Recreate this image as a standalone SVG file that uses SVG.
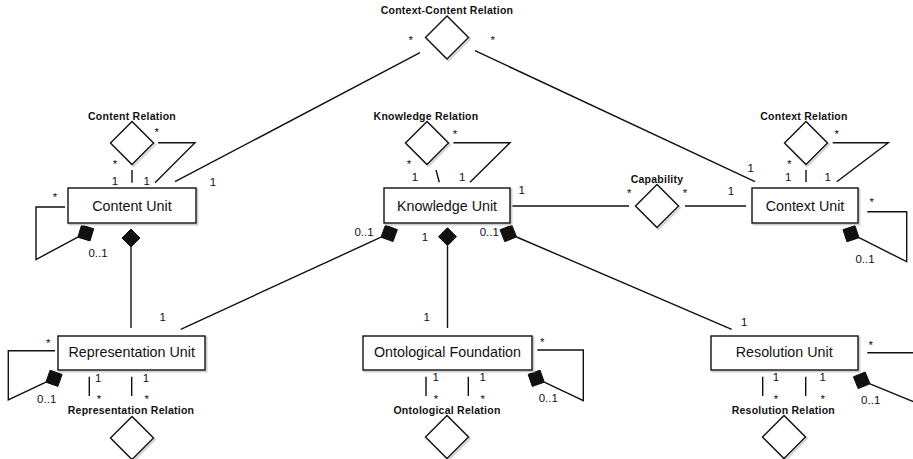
<svg xmlns="http://www.w3.org/2000/svg" xmlns:xlink="http://www.w3.org/1999/xlink" width="913" height="459" viewBox="0 0 913 459">
<style>
.box{fill:#fff;stroke:#111;stroke-width:1.4}
.bshadow{fill:none;stroke:#cfcfcf;stroke-width:2}
.dia{fill:#fff;stroke:#111;stroke-width:1.4}
.dshadow{fill:none;stroke:#d4d4d4;stroke-width:2}
.t{font-family:"Liberation Sans",Arial,sans-serif;font-size:14.3px;fill:#111;text-anchor:middle}
.l{font-family:"Liberation Sans",Arial,sans-serif;font-size:10.5px;font-weight:bold;letter-spacing:0.25px;fill:#111;text-anchor:middle}
.m{font-family:"Liberation Sans",Arial,sans-serif;font-size:11.5px;fill:#111;text-anchor:middle}
.c{fill:none;stroke:#111;stroke-width:1.4}
.comp{fill:#111;stroke:#111;stroke-width:1}
</style>
<defs>
<polygon id="dia" points="0,-21.5 21.5,0 0,21.5 -21.5,0"/>
</defs>
<rect width="913" height="459" fill="#fff"/>

<g id="connectors">
<!-- Context-Content relation -->
<polyline class="c" points="420,52.7 175,181.7"/>
<polyline class="c" points="475,50.7 755,181.7"/>
<!-- Content relation -->
<polyline class="c" points="132,170 132,182.7"/>
<polyline class="c" points="158,142.7 195,142.7 155,182.7"/>
<!-- Knowledge relation -->
<polyline class="c" points="436,170 439.3,182.3"/>
<polyline class="c" points="453.3,142.7 510,142.7 470,182.3"/>
<!-- Context relation -->
<polyline class="c" points="806,170 806,182"/>
<polyline class="c" points="832.7,142.7 888.3,142.7 836.7,181.7"/>
<!-- Capability -->
<polyline class="c" points="510,206 629,206"/>
<polyline class="c" points="685,206 746,206"/>
<!-- Content Unit self loop -->
<polyline class="c" points="65,207 36,207 36,259.5 77.85,237.2"/>
<polygon class="comp" points="77.85,237.23 90.03,240.95 93.75,228.77 81.57,225.05"/>
<!-- Content Unit to Representation Unit -->
<polygon class="comp" points="131,229 140,238 131,247 122,238"/>
<polyline class="c" points="131,247 131,328"/>
<!-- Knowledge Unit to Representation Unit -->
<polygon class="comp" points="381.0,237.2 393.0,241.6 397.4,229.6 385.4,225.2"/>
<polyline class="c" points="381.0,237.2 180.7,329.3"/>
<!-- Knowledge Unit to Ontological Foundation -->
<polygon class="comp" points="447.5,227.7 456.5,236.7 447.5,245.7 438.5,236.7"/>
<polyline class="c" points="447.5,245.7 447.5,328"/>
<!-- Knowledge Unit to Resolution Unit -->
<polygon class="comp" points="516.6,236.95 504.75,241.67 500.0,229.85 511.85,225.13"/>
<polyline class="c" points="516.6,237 731.7,329.3"/>
<!-- Context Unit self loop -->
<polyline class="c" points="867.3,211.7 906.7,211.7 906.7,261.7 859,237.7"/>
<polygon class="comp" points="859.05,237.74 846.96,241.75 842.95,229.66 855.04,225.65"/>
<!-- Representation Unit self loop -->
<polyline class="c" points="55,350.7 8.3,350.7 8.3,400 45.9,382.2"/>
<polygon class="comp" points="45.87,382.16 57.86,386.43 62.13,374.44 50.14,370.17"/>
<!-- Ontological Foundation self loop -->
<polyline class="c" points="537.3,350 583.3,350 583.3,400.7 544.3,382.2"/>
<polygon class="comp" points="544.3,382.2 532.3,386.4 528.1,374.4 540.1,370.2"/>
<!-- Resolution Unit self loop -->
<polyline class="c" points="867.3,352.7 914,352.7"/>
<polyline class="c" points="870,383.8 914,402"/>
<polygon class="comp" points="870.0,383.8 858.2,388.6 853.4,376.8 865.2,372.0"/>
<!-- Bottom relation stubs -->
<polyline class="c" points="89.3,376.7 89.3,396"/>
<polyline class="c" points="131.7,376.7 131.7,396"/>
<polyline class="c" points="426,376.7 426,396"/>
<polyline class="c" points="468.3,376.7 468.3,396"/>
<polyline class="c" points="762.7,376.7 762.7,396"/>
<polyline class="c" points="805.7,376.7 805.7,396"/>

<!-- multiplicities -->
<g id="multiplicities">
<text class="m" x="410.7" y="43.6">*</text>
<text class="m" x="492.7" y="43.6">*</text>
<text class="m" x="213" y="185.8">1</text>
<text class="m" x="750.7" y="172.4">1</text>
<text class="m" x="156.7" y="135.6">*</text>
<text class="m" x="115" y="167.6">*</text>
<text class="m" x="115" y="184.8">1</text>
<text class="m" x="146.7" y="184.8">1</text>
<text class="m" x="455" y="138.3">*</text>
<text class="m" x="409" y="167.6">*</text>
<text class="m" x="415" y="180.8">1</text>
<text class="m" x="462.3" y="180.8">1</text>
<text class="m" x="836.7" y="138.3">*</text>
<text class="m" x="789.3" y="167.6">*</text>
<text class="m" x="788.3" y="181.4">1</text>
<text class="m" x="827.7" y="181.4">1</text>
<text class="m" x="629.3" y="197.3">*</text>
<text class="m" x="685" y="197.3">*</text>
<text class="m" x="521.7" y="194.1">1</text>
<text class="m" x="731" y="194.8">1</text>
<text class="m" x="55" y="200.6">*</text>
<text class="m" x="98" y="256.8">0..1</text>
<text class="m" x="871.7" y="205.9">*</text>
<text class="m" x="865" y="262.6">0..1</text>
<text class="m" x="364" y="235.8">0..1</text>
<text class="m" x="425" y="240.8">1</text>
<text class="m" x="489.3" y="235.8">0..1</text>
<text class="m" x="162.7" y="320.8">1</text>
<text class="m" x="426.7" y="321.1">1</text>
<text class="m" x="744.3" y="325.8">1</text>
<text class="m" x="48.3" y="347.3">*</text>
<text class="m" x="46.7" y="403.4">0..1</text>
<text class="m" x="542.3" y="345.9">*</text>
<text class="m" x="548.3" y="402.4">0..1</text>
<text class="m" x="870.7" y="349.3">*</text>
<text class="m" x="870.7" y="404.1">0..1</text>
<text class="m" x="98.3" y="381.8">1</text>
<text class="m" x="146" y="381.8">1</text>
<text class="m" x="99" y="402.9">*</text>
<text class="m" x="146.7" y="402.9">*</text>
<text class="m" x="435.7" y="381.1">1</text>
<text class="m" x="482.7" y="381.1">1</text>
<text class="m" x="436" y="402.6">*</text>
<text class="m" x="482.7" y="402.6">*</text>
<text class="m" x="776" y="381.1">1</text>
<text class="m" x="822.7" y="381.1">1</text>
<text class="m" x="776" y="402.6">*</text>
<text class="m" x="822.7" y="402.6">*</text>
</g>
</g>

<!-- Unit nodes -->
<g id="content-unit">
<rect class="bshadow" x="69.5" y="189.5" width="128" height="35"/>
<rect class="box" x="68" y="188" width="128" height="35"/>
<text class="t" x="132" y="210.6">Content Unit</text>
</g>
<g id="knowledge-unit">
<rect class="bshadow" x="385.5" y="189.5" width="126" height="35"/>
<rect class="box" x="384" y="188" width="126" height="35"/>
<text class="t" x="447" y="210.6">Knowledge Unit</text>
</g>
<g id="context-unit">
<rect class="bshadow" x="753.5" y="189.5" width="106" height="35"/>
<rect class="box" x="752" y="188" width="106" height="35"/>
<text class="t" x="805" y="210.6">Context Unit</text>
</g>
<g id="representation-unit">
<rect class="bshadow" x="59.5" y="337.5" width="147" height="34"/>
<rect class="box" x="58" y="336" width="147" height="34"/>
<text class="t" x="131.7" y="357">Representation Unit</text>
</g>
<g id="ontological-foundation">
<rect class="bshadow" x="364.5" y="337.5" width="169" height="34"/>
<rect class="box" x="363" y="336" width="169" height="34"/>
<text class="t" x="447.5" y="357">Ontological Foundation</text>
</g>
<g id="resolution-unit">
<rect class="bshadow" x="712.5" y="337.5" width="147" height="34"/>
<rect class="box" x="711" y="336" width="147" height="34"/>
<text class="t" x="784.2" y="357">Resolution Unit</text>
</g>

<!-- Relation nodes -->
<g id="context-content-relation">
<use xlink:href="#dia" href="#dia" class="dshadow" x="448.5" y="39"/>
<use xlink:href="#dia" href="#dia" class="dia" x="447" y="37.5"/>
<text class="l" x="447" y="13.8">Context-Content Relation</text>
</g>
<g id="content-relation">
<use xlink:href="#dia" href="#dia" class="dshadow" x="133.5" y="144.5"/>
<use xlink:href="#dia" href="#dia" class="dia" x="132" y="143"/>
<text class="l" x="132" y="119.5">Content Relation</text>
</g>
<g id="knowledge-relation">
<use xlink:href="#dia" href="#dia" class="dshadow" x="428.5" y="144.5"/>
<use xlink:href="#dia" href="#dia" class="dia" x="427" y="143"/>
<text class="l" x="426" y="119.5">Knowledge Relation</text>
</g>
<g id="context-relation">
<use xlink:href="#dia" href="#dia" class="dshadow" x="807.5" y="144.5"/>
<use xlink:href="#dia" href="#dia" class="dia" x="806" y="143"/>
<text class="l" x="804" y="119.5">Context Relation</text>
</g>
<g id="capability">
<use xlink:href="#dia" href="#dia" class="dshadow" x="658.5" y="207.5"/>
<use xlink:href="#dia" href="#dia" class="dia" x="657" y="206"/>
<text class="l" x="657" y="182.8">Capability</text>
</g>
<g id="representation-relation">
<use xlink:href="#dia" href="#dia" class="dshadow" x="133.5" y="439.5"/>
<use xlink:href="#dia" href="#dia" class="dia" x="132" y="438"/>
<text class="l" x="131" y="414">Representation Relation</text>
</g>
<g id="ontological-relation">
<use xlink:href="#dia" href="#dia" class="dshadow" x="448.5" y="438.5"/>
<use xlink:href="#dia" href="#dia" class="dia" x="447" y="437"/>
<text class="l" x="447" y="414">Ontological Relation</text>
</g>
<g id="resolution-relation">
<use xlink:href="#dia" href="#dia" class="dshadow" x="785.5" y="438.5"/>
<use xlink:href="#dia" href="#dia" class="dia" x="784" y="437"/>
<text class="l" x="783.3" y="414">Resolution Relation</text>
</g>
</svg>
